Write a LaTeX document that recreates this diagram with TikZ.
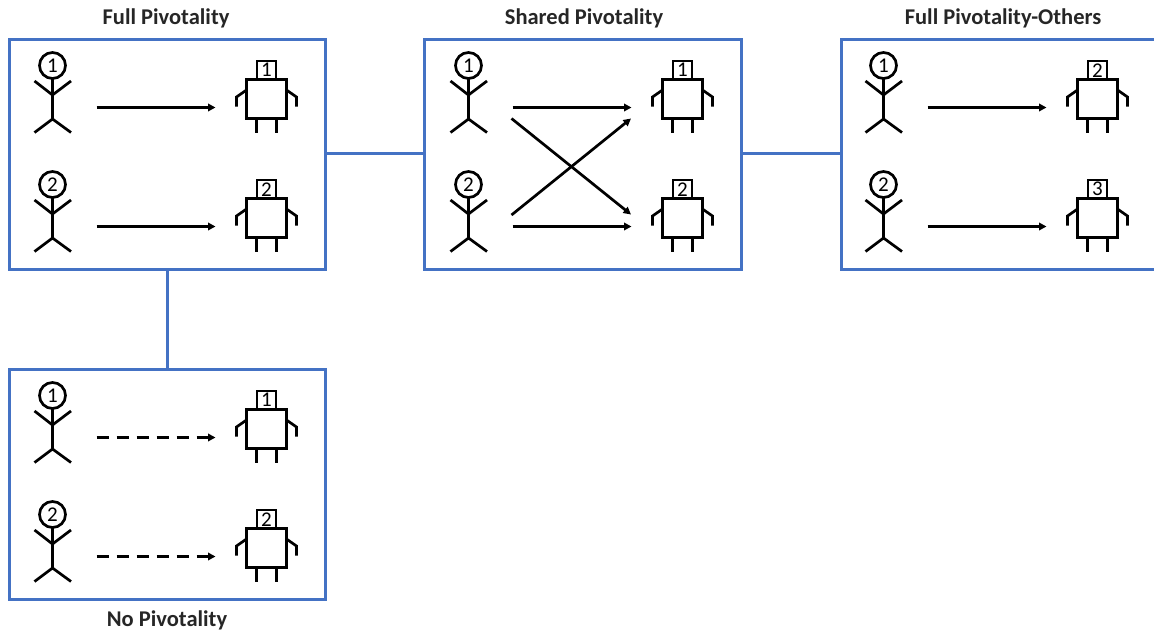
\documentclass[tikz,border=0pt]{standalone}
\usepackage{fontspec}
\setmainfont{Carlito}
\usetikzlibrary{arrows.meta}
\definecolor{panelblue}{HTML}{4472C4}
\tikzset{
  panelbox/.style={draw=panelblue,line width=3pt,fill=white,rectangle,inner sep=0pt,outer sep=0pt,anchor=north west},
  link/.style={draw=panelblue,line width=3pt},
  figline/.style={draw=black,line width=2.7pt,line cap=butt},
  headnum/.style={circle,draw=black,line width=2.7pt,minimum size=26pt,inner sep=0pt,outer sep=0pt,font=\fontsize{21}{21}\selectfont},
  bodybox/.style={rectangle,draw=black,line width=2.7pt,minimum width=40pt,minimum height=39pt,inner sep=0pt,outer sep=0pt},
  tagbox/.style={rectangle,draw=black,line width=2.7pt,minimum width=19pt,minimum height=18.6pt,inner sep=0pt,outer sep=0pt,font=\fontsize{21}{21}\selectfont},
  act/.style={draw=black,line width=2.7pt,-{Triangle[length=7.5pt,width=7.5pt]}},
  actdash/.style={act,dash pattern=on 12pt off 8pt},
  title/.style={font=\fontsize{22.5}{22.5}\selectfont\bfseries,text=black!85,inner sep=0pt}
}
% person: #1 name, #2 y, #3 number, coordinates relative to the panel scope
\newcommand{\personfig}[3]{%
  \node[headnum] (#1) at (52.5,#2+65.5) {#3};
  \coordinate (#1n) at (52.5,#2+95);
  \coordinate (#1h) at (52.5,#2+119);
  \draw[figline] (#1) -- (#1h);
  \draw[figline] (34.5,#2+81) -- (#1n) -- (71,#2+81);
  \draw[figline] (34.5,#2+132.5) -- (#1h) -- (71,#2+132.5);
  \coordinate (#1out) at (96.5,#2+107.5);
}
% robot: #1 name, #2 y, #3 number
\newcommand{\robotfig}[3]{%
  \node[bodybox] (#1) at (266.5,#2+99) {};
  \node[tagbox,anchor=south] (#1t) at (#1.north) {#3};
  \draw[figline] (#1.north west) ++(0,10.5) -- ++(-10,7) -- ++(0,9.5);
  \draw[figline] (#1.north east) ++(0,10.5) -- ++(10,7) -- ++(0,9.5);
  \draw[figline] (256.5,#2+118.5) -- (256.5,#2+132.5);
  \draw[figline] (276.5,#2+118.5) -- (276.5,#2+132.5);
  \coordinate (#1in) at (215.5,#2+107.5);
}
% panel contents: #1 prefix, #2 dx, #3 dy, #4 #5 robot numbers
\newcommand{\panelfigs}[5]{%
  \begin{scope}[shift={(#2,#3)}]
    \personfig{#1p}{0}{1}
    \personfig{#1q}{119}{2}
    \robotfig{#1r}{0}{#4}
    \robotfig{#1s}{119}{#5}
  \end{scope}
}
\begin{document}
\begin{tikzpicture}[x=1pt,y=-1pt]
  \clip (0,0) rectangle (1154,633);
  \fill[white] (0,0) rectangle (1154,633);

  \node[panelbox,minimum width=315.5pt,minimum height=230pt] (boxA) at (9.5,39) {};
  \node[panelbox,minimum width=316.5pt,minimum height=230pt] (boxB) at (424.5,39) {};
  \node[panelbox,minimum width=330pt,minimum height=230pt] (boxC) at (841,39) {};
  \node[panelbox,minimum width=315.5pt,minimum height=230pt] (boxD) at (9.5,369) {};

  \draw[link] (boxA.east |- 0,153.5) coordinate (abs) -- (boxB.west |- abs);
  \draw[link] (boxB.east |- 0,153.5) coordinate (bcs) -- (boxC.west |- bcs);
  \draw[link] (boxA.south) -- (boxD.north);

  \node[title] (tA) at (166,18.5) {Full Pivotality};
  \node[title] (tB) at (584,18.5) {Shared Pivotality};
  \node[title] (tC) at (1003,18.5) {Full Pivotality-Others};
  \node[title] (tD) at (167,620.5) {No Pivotality};

  \panelfigs{a}{0}{0}{1}{2}
  \panelfigs{b}{416}{0}{1}{2}
  \panelfigs{c}{831}{0}{2}{3}
  \panelfigs{d}{0}{330}{1}{2}

  \draw[act] (apout) -- (arin);
  \draw[act] (aqout) -- (asin);
  \draw[act] (cpout) -- (crin);
  \draw[act] (cqout) -- (csin);
  \draw[actdash] (dpout) -- (drin);
  \draw[actdash] (dqout) -- (dsin);

  \draw[act] (bpout) -- (brin);
  \draw[act] (bqout) -- (bsin);
  \coordinate (bx1) at (511.5,118.5);
  \coordinate (bx2) at (631,214.5);
  \coordinate (bx3) at (511.5,215);
  \coordinate (bx4) at (631,118.5);
  \draw[act] (bx1) -- (bx2);
  \draw[act] (bx3) -- (bx4);
\end{tikzpicture}
\end{document}
